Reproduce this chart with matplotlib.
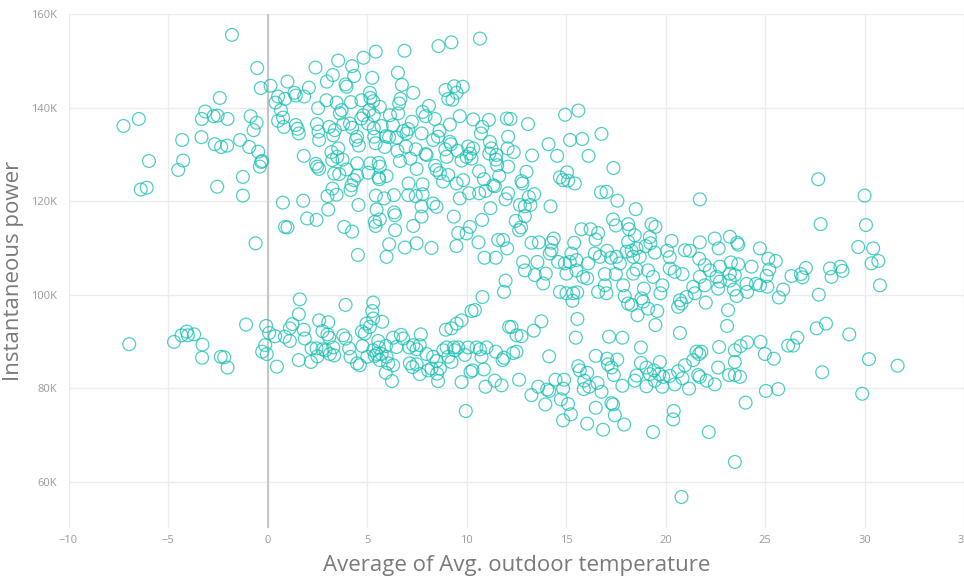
import matplotlib
matplotlib.use("Agg")
import matplotlib.pyplot as plt
import numpy as np

# (avg outdoor temperature, instantaneous power in K)
pts_left_upper = [
    (-1.79, 155.6), (-0.52, 148.5), (-0.34, 144.2), (0.15, 144.7), (1.0, 145.6), (-2.4, 142.1),
    (0.53, 142.4), (0.88, 141.9), (0.4, 141.1), (0.67, 139.5), (-3.13, 139.2), (-3.3, 137.6),
    (-2.71, 138.2), (-2.51, 138.3), (-2.01, 137.6), (-6.47, 137.6), (-7.24, 136.1), (-0.85, 138.2),
    (-0.55, 136.8), (-0.7, 135.2), (0.53, 137.2), (0.78, 137.9), (0.82, 135.9), (-4.29, 133.1),
    (-3.32, 133.7), (-2.65, 132.2), (-2.33, 131.6), (-2.03, 131.9), (-1.38, 133.1), (-0.92, 131.6),
    (-0.47, 130.6), (-0.27, 128.6), (-0.32, 128.4), (-0.39, 127.4), (-5.96, 128.6), (-4.24, 128.7),
    (-4.49, 126.7), (-1.24, 125.2), (-2.53, 123.1), (-1.24, 121.2), (-6.37, 122.5), (-6.07, 122.9),
    (0.77, 119.7), (0.88, 114.5), (1.0, 114.4), (-0.6, 111.0),
]

pts_left_lower = [
    (-6.95, 89.4), (-4.70, 89.9), (-4.32, 91.3), (-4.06, 92.1), (-4.0, 91.3), (-3.69, 91.5),
    (-3.27, 89.3), (-3.29, 86.5), (-2.35, 86.7), (-2.18, 86.6), (-2.01, 84.4), (-1.08, 93.6),
    (-0.07, 93.3), (0.08, 91.8), (0.38, 91.1), (-0.12, 89.2), (-0.27, 87.8), (-0.04, 87.3),
    (0.47, 84.6),
]

pts_mid_upper = [
    (10.67, 154.8), (9.24, 154.0), (8.59, 153.2), (6.88, 152.2), (5.44, 152.0), (4.82, 150.7),
    (3.55, 150.1), (2.41, 148.6), (4.25, 148.9), (4.35, 146.8), (3.92, 145.0), (3.97, 144.5),
    (3.28, 147.0), (2.98, 145.6), (5.26, 146.4), (6.55, 147.5), (6.75, 144.9), (7.32, 143.2),
    (2.08, 144.3), (1.35, 143.2), (1.42, 142.6), (1.84, 142.4), (5.14, 143.2), (5.17, 142.1),
    (5.31, 141.4), (5.11, 139.5), (8.94, 143.8), (9.38, 144.6), (9.81, 144.5), (9.50, 143.2),
    (9.08, 141.9), (9.29, 141.7), (2.96, 141.6), (2.54, 139.9), (3.47, 141.1), (4.19, 141.2),
    (3.72, 139.5), (3.63, 138.8), (4.72, 141.6), (5.64, 140.2), (6.68, 141.9), (6.61, 140.9),
    (6.56, 138.8), (6.15, 138.4), (4.81, 138.4), (4.71, 137.7), (5.34, 138.4), (7.79, 139.1),
    (8.11, 140.4), (7.94, 138.2), (8.41, 137.6), (9.66, 138.2), (9.16, 136.4), (10.33, 137.5),
    (11.12, 137.4), (10.79, 135.9), (10.72, 134.5), (12.02, 137.7),
    (1.42, 136.3), (1.51, 135.5), (1.57, 134.5), (2.48, 136.5), (2.56, 134.9), (2.59, 133.1),
    (3.10, 135.9), (3.38, 135.2), (3.30, 134.1), (3.80, 136.5), (4.14, 136.6), (4.25, 135.7),
    (4.50, 133.8), (4.44, 133.1), (4.59, 131.9), (5.04, 136.6), (5.34, 135.6), (5.36, 133.8),
    (5.43, 132.4), (5.73, 136.1), (5.94, 133.9), (6.11, 133.7), (5.89, 131.6), (6.30, 136.3),
    (6.82, 135.0), (6.98, 134.5), (7.07, 135.4), (6.48, 133.6), (6.95, 131.7), (6.53, 130.8),
    (7.25, 137.0), (7.74, 134.5), (8.32, 133.1), (8.64, 135.1), (8.56, 133.8), (9.16, 132.7),
    (9.21, 132.2), (7.45, 131.1), (7.94, 130.1), (7.99, 129.9), (8.93, 131.1), (9.0, 129.5),
    (9.55, 130.8), (10.08, 131.7), (10.33, 131.3), (10.17, 130.2), (10.0, 129.5), (10.25, 129.1),
    (9.75, 128.7), (11.17, 132.7), (11.25, 131.3), (11.14, 130.2), (11.5, 129.9), (11.47, 128.9),
    (11.54, 127.7), (12.09, 133.8), (12.06, 131.3),
    (1.82, 129.7), (2.43, 128.0), (2.59, 126.9), (2.49, 127.4), (3.21, 130.5), (3.25, 128.8),
    (3.50, 129.5), (3.55, 131.3), (3.77, 128.9), (3.35, 125.9), (3.60, 125.8), (3.97, 126.8),
    (4.50, 128.1), (5.17, 128.1), (5.58, 128.2), (5.64, 127.4), (5.06, 126.1), (4.50, 125.5),
    (4.34, 124.5), (4.22, 123.4), (4.17, 122.4), (5.58, 125.1), (5.61, 124.7), (5.98, 125.4),
    (6.65, 128.6), (7.18, 129.1), (7.49, 126.9), (8.42, 127.6), (8.49, 126.7), (8.66, 126.0),
    (8.82, 124.2), (9.08, 125.6), (9.5, 123.8), (9.83, 124.5), (10.63, 126.4), (10.87, 124.7),
    (11.34, 123.4), (11.64, 125.4),
    (3.26, 122.7), (3.47, 121.4), (3.01, 121.1), (1.79, 120.1), (3.05, 118.2), (1.99, 116.3),
    (2.46, 116.0), (3.85, 114.5), (4.25, 113.5), (4.57, 119.2), (5.44, 121.2), (5.86, 120.6),
    (6.35, 121.3), (7.08, 123.8), (7.07, 121.3), (7.45, 121.1), (7.79, 123.6), (7.79, 121.5),
    (5.48, 118.2), (6.36, 117.6), (6.40, 117.0), (5.64, 116.1), (5.39, 115.6), (5.43, 114.7),
    (6.41, 113.8), (7.32, 114.7), (7.74, 116.7), (7.74, 118.9), (8.32, 119.5), (8.49, 118.8),
    (9.36, 116.7), (9.66, 120.6), (10.13, 121.7), (10.63, 121.7), (10.95, 122.2), (11.42, 123.2),
    (11.96, 120.4), (12.09, 121.7), (11.2, 118.5), (10.78, 116.0), (10.17, 114.5), (10.0, 113.1),
    (9.58, 113.2), (9.49, 110.4), (8.24, 110.0), (7.49, 111.0), (6.9, 110.1), (6.11, 110.8),
    (5.98, 108.1), (4.54, 108.5), (10.6, 111.2), (10.9, 107.9), (11.47, 107.9), (11.59, 111.7),
    (11.84, 111.7), (12.04, 109.9),
]

pts_mid_lower = [
    (1.62, 99.0), (1.57, 95.8), (3.92, 97.8), (5.31, 98.3), (5.26, 96.5), (5.31, 94.9),
    (5.76, 94.2), (1.25, 93.7), (1.12, 92.8), (1.82, 92.5), (0.87, 91.0), (1.12, 90.1),
    (1.87, 90.6), (2.59, 94.5), (3.05, 94.1), (2.76, 92.2), (3.01, 91.5), (3.10, 90.8),
    (3.80, 91.3), (3.92, 90.6), (2.21, 88.5), (2.46, 88.5), (2.76, 88.3), (2.91, 88.1),
    (3.30, 88.7), (3.13, 87.3), (3.35, 87.0), (2.51, 86.8), (1.57, 86.0), (2.18, 85.6),
    (4.1, 88.5), (4.17, 86.7), (4.50, 85.3), (4.64, 84.9), (4.77, 89.0), (4.74, 92.1),
    (4.89, 91.7), (4.97, 93.8), (5.14, 93.1), (5.01, 86.7), (5.31, 88.1), (5.48, 87.3),
    (5.39, 86.9), (5.59, 88.7), (5.73, 87.3), (5.64, 86.0), (5.56, 90.1), (5.95, 89.0),
    (5.98, 86.7), (6.06, 85.3), (5.94, 83.3), (6.31, 84.9), (6.25, 81.5), (6.31, 90.8),
    (6.48, 88.8), (6.70, 91.4), (6.82, 90.6), (7.12, 88.7), (7.32, 89.2), (7.49, 88.3),
    (7.70, 91.5), (7.65, 89.2), (7.15, 85.3), (7.28, 84.5), (7.49, 85.1), (7.65, 83.0),
    (7.99, 87.3), (8.07, 83.8), (8.24, 84.2), (8.32, 86.7), (8.49, 85.8), (8.52, 83.1),
    (8.57, 81.5), (8.66, 84.2), (8.83, 88.1), (8.96, 92.5), (9.24, 92.8), (9.50, 93.8),
    (9.75, 94.5), (9.0, 88.7), (9.08, 86.7), (9.24, 85.6), (9.36, 88.7), (9.41, 88.1),
    (9.58, 88.7), (9.75, 81.3), (9.91, 87.1), (10.08, 88.7), (10.25, 96.5), (10.42, 96.7),
    (10.8, 99.5), (10.3, 83.8), (10.2, 83.5), (10.5, 88.7), (10.67, 88.3), (10.75, 86.7),
    (10.87, 84.0), (11.0, 88.7), (10.95, 80.3), (11.47, 87.8), (11.42, 81.6), (11.76, 80.6),
    (11.81, 86.0), (11.88, 86.5), (11.96, 103.0), (11.88, 100.6), (12.14, 93.1), (9.96, 75.1),
]

pts_right_upper = [
    (15.62, 139.4), (14.95, 138.5), (12.21, 137.6), (13.09, 136.5), (16.78, 134.4), (15.20, 133.1),
    (15.81, 133.3), (14.12, 132.2), (12.37, 130.5), (13.29, 129.8), (14.55, 129.7), (16.13, 129.7),
    (12.09, 127.4), (17.38, 127.1), (13.01, 126.3), (12.76, 124.3), (12.81, 123.8), (14.69, 125.1),
    (15.05, 126.2), (14.85, 124.5), (15.10, 124.4), (15.44, 123.8), (16.75, 121.9), (17.03, 122.0),
    (17.58, 120.1), (21.72, 120.4), (13.40, 121.5), (13.13, 120.9), (12.68, 119.2), (12.93, 118.9),
    (13.21, 119.2), (14.22, 118.9), (12.93, 116.8), (12.47, 115.8), (12.64, 113.8), (12.74, 114.4),
    (18.50, 118.3), (17.36, 116.1), (17.50, 114.8), (18.12, 115.1), (18.17, 114.0), (18.45, 112.7),
    (19.29, 115.1), (19.49, 114.5), (15.77, 114.0), (16.23, 114.0), (16.61, 113.2), (16.48, 111.8),
    (14.38, 112.0), (14.27, 111.1), (13.26, 111.1), (13.63, 111.2), (15.41, 111.1), (14.18, 108.8),
    (14.27, 109.5), (15.27, 108.8), (15.52, 107.4), (15.19, 107.0), (14.60, 107.0), (14.94, 106.7),
    (12.84, 107.0), (13.56, 107.0), (16.44, 108.8), (16.70, 108.1), (17.06, 109.4), (17.25, 107.9),
    (17.53, 108.1), (18.12, 111.3), (18.04, 109.2), (18.29, 109.4), (18.54, 109.9), (18.37, 108.1),
    (18.70, 108.1), (19.0, 110.4), (19.21, 112.3), (19.24, 111.0), (19.46, 109.0), (20.08, 109.4),
    (20.30, 111.5), (20.21, 108.0), (20.97, 109.5), (21.22, 109.4), (21.72, 111.2), (22.47, 112.0),
    (22.67, 109.9), (23.23, 112.4), (21.69, 107.7), (21.97, 106.3), (17.70, 106.7), (16.11, 106.7),
]

pts_right_lower = [
    (12.93, 105.2), (13.43, 104.2), (13.98, 104.5), (13.85, 102.4), (15.02, 104.5), (15.52, 105.2),
    (15.86, 103.8), (16.06, 103.5), (14.69, 100.6), (15.02, 100.3), (15.36, 100.3), (15.56, 100.5),
    (15.32, 98.7), (16.95, 104.4), (17.50, 104.4), (16.95, 102.0), (16.61, 100.6), (17.03, 100.3),
    (17.87, 102.0), (17.95, 99.7), (18.12, 98.1), (18.29, 97.8), (18.37, 104.5), (18.54, 105.4),
    (18.91, 101.3), (18.79, 99.2), (18.87, 98.5), (18.59, 95.6), (19.12, 97.0), (19.58, 96.5),
    (19.49, 93.5), (19.12, 105.2), (19.37, 103.8), (19.84, 102.0), (19.74, 100.3), (20.21, 105.6),
    (20.46, 104.9), (20.85, 104.4), (20.72, 98.8), (20.63, 97.4), (20.80, 98.1), (21.05, 99.5),
    (21.39, 101.7), (21.47, 100.3), (21.72, 103.8), (21.97, 102.0), (22.02, 98.3), (22.22, 105.2),
    (22.56, 103.8), (22.64, 101.3), (22.73, 106.0), (23.14, 96.7), (23.09, 93.3),
    (12.26, 93.1), (12.51, 91.3), (12.76, 91.1), (13.38, 92.3), (13.76, 94.3), (15.57, 94.8),
    (15.49, 90.8), (17.16, 91.0), (17.83, 90.8), (20.72, 91.8), (18.76, 88.7), (22.69, 88.8),
    (12.34, 87.5), (12.51, 87.8), (14.15, 86.8), (16.49, 86.9), (17.06, 86.3), (17.57, 86.1),
    (17.11, 85.1), (17.28, 84.4), (17.40, 82.8), (15.61, 84.7), (15.69, 83.8), (16.06, 83.3),
    (15.91, 81.6), (16.16, 80.3), (15.89, 79.8), (16.58, 81.1), (16.78, 79.2), (17.83, 80.5),
    (18.54, 82.7), (18.45, 81.6), (18.76, 85.4), (19.04, 84.4), (19.21, 83.0), (19.04, 80.4),
    (19.41, 83.8), (19.46, 81.6), (19.71, 85.6), (19.68, 83.0), (19.88, 82.4), (19.83, 80.3),
    (20.21, 82.6), (20.46, 80.8), (20.63, 83.6), (20.85, 82.1), (20.97, 84.9), (21.18, 79.9),
    (21.39, 86.0), (21.55, 87.8), (21.69, 87.3), (21.80, 87.8), (21.64, 82.8), (21.72, 82.4),
    (22.06, 81.6), (22.47, 80.8), (22.64, 84.4), (23.19, 82.8), (12.64, 81.8), (13.60, 80.3),
    (13.26, 78.5), (14.05, 79.7), (14.15, 79.4), (14.47, 81.8), (14.90, 81.8), (14.85, 79.9),
    (14.74, 77.6), (15.10, 76.6), (13.96, 76.5), (15.24, 74.4), (14.85, 73.1), (16.49, 75.8),
    (17.28, 76.8), (17.36, 76.5), (17.45, 74.2), (17.92, 72.2), (16.86, 71.1), (16.06, 72.4),
    (19.37, 70.6), (20.41, 75.1), (20.38, 73.3), (22.17, 70.6), (20.80, 56.7), (23.48, 64.2),
]

pts_far_right = [
    (27.67, 124.7), (30.0, 121.2), (27.79, 115.1), (30.07, 114.9), (29.68, 110.2), (30.43, 109.9),
    (30.69, 107.2), (30.35, 106.7), (23.60, 111.1), (23.65, 110.7), (24.74, 109.9), (25.16, 107.7),
    (25.54, 107.2), (23.28, 106.9), (23.65, 106.5), (24.32, 106.0), (27.05, 105.7), (28.26, 105.6),
    (28.79, 106.0),
    (25.21, 105.4), (25.08, 104.0), (26.33, 104.0), (26.80, 104.4), (26.88, 103.7), (28.34, 103.8),
    (28.89, 105.1), (30.77, 102.0), (23.23, 104.5), (23.48, 104.2), (23.23, 103.0), (22.73, 102.8),
    (23.43, 101.1), (23.57, 99.7), (24.07, 102.3), (24.54, 102.3), (24.74, 102.0), (25.11, 101.7),
    (24.10, 100.6), (25.91, 101.1), (25.69, 99.4), (27.70, 100.0), (27.59, 92.8), (28.06, 93.8),
    (29.23, 91.5), (23.48, 88.1), (23.77, 89.0), (24.10, 89.8), (24.77, 89.9), (24.99, 87.3),
    (25.44, 86.3), (26.16, 89.1), (26.41, 89.1), (26.62, 90.8), (23.48, 85.6), (23.48, 82.8),
    (23.74, 82.4), (27.87, 83.4), (30.22, 86.2), (31.66, 84.8), (25.04, 79.4), (25.66, 79.8),
    (24.02, 76.9), (29.88, 78.8),
]

x_ticks = [-10, -5, 0, 5, 10, 15, 20, 25, 30, 35]
y_ticks = [60, 80, 100, 120, 140, 160]
y_tick_labels = ['60K', '80K', '100K', '120K', '140K', '160K']

MARKER_COLOR = '#14BFB1'
GRID_COLOR = '#ececec'
TICK_COLOR = '#9a9a9a'
LABEL_COLOR = '#7a7a7a'

all_pts = (pts_left_upper + pts_left_lower + pts_mid_upper + pts_mid_lower
           + pts_right_upper + pts_right_lower + pts_far_right)
temperature = np.array([p[0] for p in all_pts])
power_k = np.array([p[1] for p in all_pts])

plt.rcParams['font.family'] = ['Open Sans', 'DejaVu Sans']

fig = plt.figure(figsize=(9.64, 5.83), dpi=100)
ax = fig.add_axes([0.0711, 0.0938, 0.929, 0.8817])

ax.set_xlim(-10, 35)
ax.set_ylim(50, 160)
ax.set_xticks(x_ticks)
ax.set_yticks(y_ticks)
ax.set_yticklabels(y_tick_labels)

ax.grid(True, color=GRID_COLOR, linewidth=1.0)
ax.set_axisbelow(True)
ax.axvline(0, color='#c6c6c6', linewidth=1.5, zorder=1)
for side in ['top', 'right', 'bottom', 'left']:
    ax.spines[side].set_visible(False)
ax.tick_params(length=0, labelsize=8, labelcolor=TICK_COLOR)
ax.tick_params(axis='x', pad=5)
ax.tick_params(axis='y', pad=8)

ax.scatter(temperature, power_k, s=85, facecolors='none', edgecolors=MARKER_COLOR,
           linewidths=0.9, alpha=0.75, zorder=3)

ax.set_xlabel('Average of Avg. outdoor temperature', fontsize=16, color=LABEL_COLOR, labelpad=6)
ax.set_ylabel('Instantaneous power', fontsize=16, color=LABEL_COLOR, labelpad=5)

fig.savefig('out.png', dpi=100)
